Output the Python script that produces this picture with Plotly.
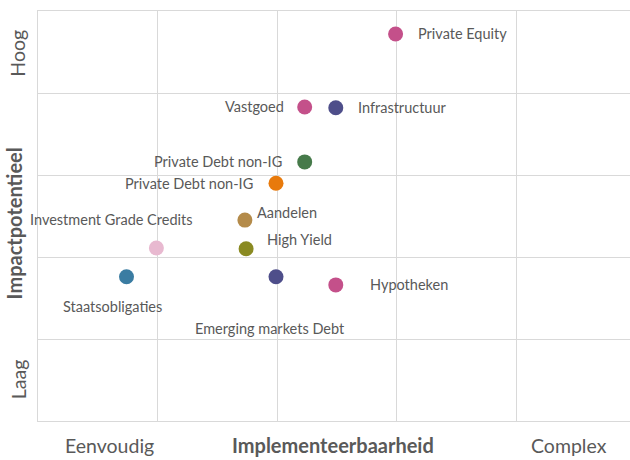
import plotly.graph_objects as go

names = ["Private Equity", "Vastgoed", "Infrastructuur", "Private Debt non-IG",
         "Private Debt non-IG", "Aandelen", "Investment Grade Credits", "High Yield",
         "Staatsobligaties", "Emerging markets Debt", "Hypotheken"]
implementeerbaarheid = [2.99, 2.23, 2.49, 2.23, 1.99, 1.73, 0.99, 1.74, 0.74, 1.99, 2.49]
impactpotentieel = [4.72, 3.83, 3.82, 3.16, 2.90, 2.45, 2.11, 2.10, 1.76, 1.76, 1.66]
colors = ["#C4508A", "#C4508A", "#4E4E8A", "#467A4A", "#E87A0C", "#B48B4A",
          "#E8B9D0", "#8A8A22", "#3A7CA2", "#4E4E8A", "#C4508A"]
# label placement: (xanchor, xshift, yshift)
label_pos = [("left", 20, 0), ("right", -19, 0), ("left", 20, 0), ("right", -21, 0),
             ("right", -21, 0), ("left", 10, 8), ("center", -45, 28), ("left", 19, 9),
             ("center", -14, -30), ("center", -6, -52), ("left", 32, 0)]

x_cats = ["Eenvoudig", "Implementeerbaarheid", "Complex"]
x_cat_pos = [0.6, 2.47, 4.44]
y_cats = ["Hoog", "Impactpotentieel", "Laag"]
y_cat_pos = [4.48, 2.41, 0.51]

FONT = "Lato, Carlito, Calibri, sans-serif"

fig = go.Figure()
fig.add_trace(go.Scatter(
    x=implementeerbaarheid, y=impactpotentieel, mode="markers",
    marker=dict(size=15, color=colors, line=dict(width=0)),
    hovertext=names, hoverinfo="text", showlegend=False))

font_lbl = dict(family=FONT, size=14.5, color="#595959")
for n, xv, yv, (xa, xs, ys) in zip(names, implementeerbaarheid, impactpotentieel, label_pos):
    fig.add_annotation(x=xv, y=yv, text=n, showarrow=False, xanchor=xa, yanchor="middle",
                       xshift=xs, yshift=ys, font=font_lbl)

for i, (t, xv) in enumerate(zip(x_cats, x_cat_pos)):
    fig.add_annotation(x=xv, y=0, xref="x", yref="paper", text=("<b>%s</b>" % t) if i == 1 else t,
                       showarrow=False, xanchor="center", yanchor="middle", yshift=-24,
                       font=dict(family=FONT, size=20 if i == 1 else 19.5, color="#595959"))
for i, (t, yv) in enumerate(zip(y_cats, y_cat_pos)):
    fig.add_annotation(x=0, y=yv, xref="paper", yref="y", text=("<b>%s</b>" % t) if i == 1 else t,
                       showarrow=False, xanchor="center", yanchor="middle", textangle=-90,
                       xshift=-24 if i == 1 else -20,
                       font=dict(family=FONT, size=20 if i == 1 else 19.5, color="#595959"))

fig.update_layout(
    width=630, height=460, margin=dict(l=38, r=0, t=11, b=39),
    paper_bgcolor="white", plot_bgcolor="white",
    xaxis=dict(range=[0, 4.95], dtick=1, tick0=0, showticklabels=False, ticks="",
               showgrid=True, gridcolor="#D9D9D9", gridwidth=1.3, zeroline=False,
               showline=True, linecolor="#D9D9D9", linewidth=1.3, mirror=True, fixedrange=True),
    yaxis=dict(range=[0, 5], dtick=1, tick0=0, showticklabels=False, ticks="",
               showgrid=True, gridcolor="#D9D9D9", gridwidth=1.3, zeroline=False,
               showline=True, linecolor="#D9D9D9", linewidth=1.3, mirror=False, fixedrange=True),
)
fig.write_html("out.html", config={"displayModeBar": False},
               post_script="document.body.style.margin='0';document.body.style.overflow='hidden';")
